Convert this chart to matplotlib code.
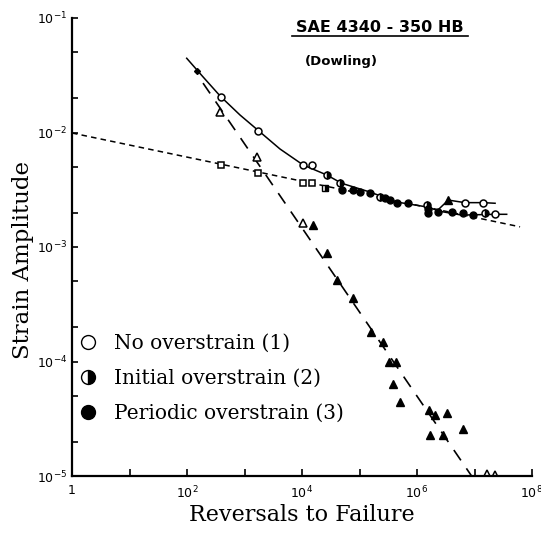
import matplotlib
matplotlib.use("Agg")
import matplotlib.pyplot as plt
import matplotlib.ticker as mt
from matplotlib.lines import Line2D

plt.rcParams['lines.scale_dashes'] = False

# curve fits
total_N = [98.8, 190, 385, 835, 1740, 4140, 1.05e4, 2.69e4, 4.9e4, 1.52e5, 4.44e5, 1.55e6, 2.5e6]
total_eps = [0.0445, 0.0306, 0.0206, 0.01422, 0.0104, 0.00718, 0.0052, 0.00426, 0.0036, 0.00302, 0.00247, 0.00223, 0.00205]
runout_hi_N = [2.3e6, 3.5e6, 6.8e6, 1.42e7, 2.28e7]
runout_hi_eps = [0.0021, 0.00257, 0.00244, 0.00244, 0.00241]
runout_lo_N = [2.5e6, 5.98e6, 2.28e7, 3.63e7]
runout_lo_eps = [0.00205, 0.0019, 0.00193, 0.00193]
elastic_line_N = [1, 6.2e7]
elastic_line_eps = [0.0099, 0.0015]
plastic_line_N = [190, 8.9e6]
plastic_line_eps = [0.027, 1.0e-5]

# test points
none_N = [385, 1740, 1.05e4, 1.49e4, 6.8e6, 1.42e7, 2.28e7]
none_eps = [0.0206, 0.0104, 0.0052, 0.0052, 0.00244, 0.00244, 0.00193]
init_N = [2.69e4, 4.6e4, 2.28e5, 1.48e6, 1.52e7]
init_eps = [0.00426, 0.0036, 0.00275, 0.00233, 0.00197]
periodic_N = [4.9e4, 7.8e4, 1.02e5, 1.52e5, 2.77e5, 3.39e5, 4.44e5, 7.06e5,
              1.57e6, 1.57e6, 2.34e6, 4.0e6, 6.4e6, 9.5e6]
periodic_eps = [0.00315, 0.00315, 0.00304, 0.00294, 0.00266, 0.00257, 0.00241, 0.00241,
                0.00197, 0.00215, 0.00203, 0.00203, 0.00197, 0.0019]
start_N = [148]
start_eps = [0.0347]
el_open_N = [385, 1740, 1.05e4, 1.49e4]
el_open_eps = [0.0052, 0.00441, 0.0036, 0.0036]
el_half_N = [2.5e4]
el_half_eps = [0.00326]
pl_open_N = [375, 1670, 1.05e4, 1.63e7, 2.28e7]
pl_open_eps = [0.0152, 0.00607, 0.00161, 1.04e-5, 1.03e-5]
pl_fill_N = [1.57e4, 2.69e4, 4.0e4, 7.8e4, 1.57e5, 2.6e5, 3.3e5, 4.4e5, 3.8e5, 5.0e5,
             1.62e6, 2.06e6, 3.29e6, 1.65e6, 2.8e6, 6.4e6, 3.5e6]
pl_fill_eps = [0.00156, 8.8e-4, 5.15e-4, 3.56e-4, 1.82e-4, 1.47e-4, 9.95e-5, 9.95e-5, 6.35e-5, 4.43e-5,
               3.77e-5, 3.41e-5, 3.53e-5, 2.28e-5, 2.28e-5, 2.56e-5, 0.00257]

legend_labels = ['No overstrain (1)', 'Initial overstrain (2)', 'Periodic overstrain (3)']

fig = plt.figure(figsize=(5.41, 5.39), dpi=100)
ax = fig.add_axes([72/541, 63/539, 460/541, 458/539])

ax.plot(total_N, total_eps, color='black', lw=1.1)
ax.plot(runout_hi_N, runout_hi_eps, color='black', lw=1.1)
ax.plot(runout_lo_N, runout_lo_eps, color='black', lw=1.1)
ax.plot(elastic_line_N, elastic_line_eps, color='black', lw=1.1, dashes=(4, 3))
ax.plot(plastic_line_N, plastic_line_eps, color='black', lw=1.2, dashes=(9, 7))

ms = 5
ax.plot(start_N, start_eps, 'D', ms=3, color='black')
ax.plot(none_N, none_eps, 'o', ms=ms, mfc='white', mec='black', mew=1.1)
ax.plot(init_N, init_eps, 'o', ms=ms, fillstyle='right', mfc='black', mfcalt='white', mec='black', mew=1.1)
ax.plot(periodic_N, periodic_eps, 'o', ms=ms, color='black')
ax.plot(el_open_N, el_open_eps, 's', ms=ms - 0.5, mfc='white', mec='black', mew=1.1)
ax.plot(el_half_N, el_half_eps, 's', ms=ms - 0.5, fillstyle='right', mfc='black', mfcalt='white', mec='black')
ax.plot(pl_open_N, pl_open_eps, '^', ms=ms + 0.5, mfc='white', mec='black', mew=1.1)
ax.plot(pl_fill_N, pl_fill_eps, '^', ms=ms + 1, color='black')

ax.set_xscale('log')
ax.set_yscale('log')
ax.set_xlim(1, 1e8)
ax.set_ylim(1e-5, 1e-1)

ax.xaxis.set_major_locator(mt.FixedLocator([1, 1e2, 1e4, 1e6, 1e8]))
ax.xaxis.set_minor_locator(mt.FixedLocator([1e1, 1e3, 1e5, 1e7]))
ax.xaxis.set_major_formatter(mt.FixedFormatter(['1', '$10^2$', '$10^4$', '$10^6$', '$10^8$']))
ax.xaxis.set_minor_formatter(mt.NullFormatter())
ax.yaxis.set_major_locator(mt.FixedLocator([1e-5, 1e-4, 1e-3, 1e-2, 1e-1]))
ax.yaxis.set_minor_locator(mt.LogLocator(base=10, subs=(2, 5), numticks=10))
ax.yaxis.set_major_formatter(mt.FixedFormatter(['$10^{-5}$', '$10^{-4}$', '$10^{-3}$', '$10^{-2}$', '$10^{-1}$']))
ax.yaxis.set_minor_formatter(mt.NullFormatter())

ax.tick_params(which='both', direction='in', length=5, width=1.2, labelsize=9, top=False, right=False)
ax.tick_params(axis='y', which='both', length=4)
ax.tick_params(axis='x', pad=6)
for s in ['top', 'right']:
    ax.spines[s].set_visible(False)
for s in ['left', 'bottom']:
    ax.spines[s].set_linewidth(1.6)

ax.set_xlabel('Reversals to Failure', family='DejaVu Serif', fontsize=16, labelpad=2)
ax.set_ylabel('Strain Amplitude', family='DejaVu Serif', fontsize=16.5)
ax.yaxis.set_label_coords(-38/460, (476 - 260)/458)

fig.text(380/541, 1 - 28/539, 'SAE 4340 - 350 HB', ha='center', va='center',
         fontsize=11.5, fontweight='bold', family='DejaVu Sans')
fig.add_artist(Line2D([292/541, 468/541], [1 - 36/539, 1 - 36/539], color='black', lw=1.2))
fig.text(341/541, 1 - 61/539, '(Dowling)', ha='center', va='center',
         fontsize=9.5, fontweight='bold', family='DejaVu Sans')

handles = [
    Line2D([], [], ls='none', marker='o', ms=10, mfc='white', mec='black', mew=1.0),
    Line2D([], [], ls='none', marker='o', ms=10, fillstyle='right', mfc='black', mfcalt='white', mec='black', mew=1.0),
    Line2D([], [], ls='none', marker='o', ms=10, color='black'),
]
ax.legend(handles, legend_labels, loc='upper left', bbox_to_anchor=(80/541, 1 - 334/539),
          bbox_transform=fig.transFigure, frameon=False, prop={'family': 'DejaVu Serif', 'size': 14.5},
          handlelength=0.8, handletextpad=0.9, labelspacing=0.8, borderpad=0, borderaxespad=0)

fig.savefig('out.png', dpi=100)
